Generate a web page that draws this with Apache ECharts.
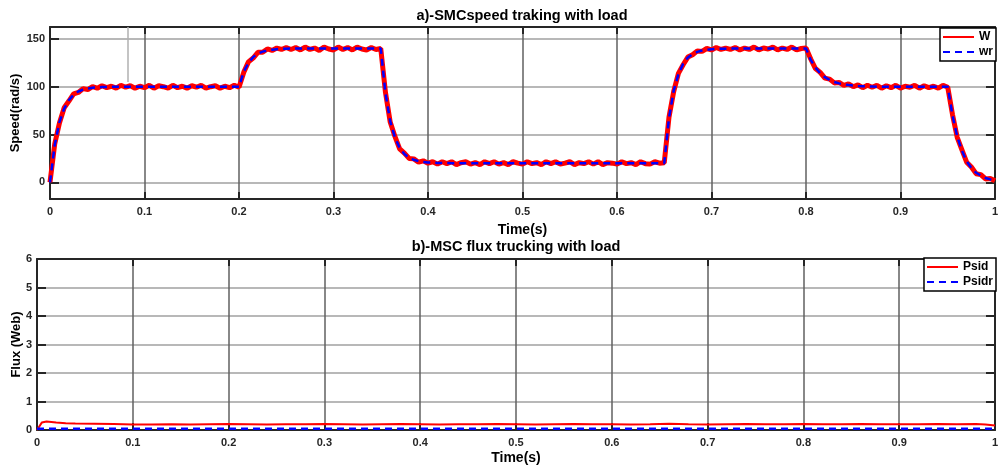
<!DOCTYPE html>
<html>
<head>
<meta charset="utf-8">
<script src="https://cdn.jsdelivr.net/npm/echarts@6/dist/echarts.min.js"></script>
<style>html,body{margin:0;padding:0;background:#fff}#c{width:1002px;height:466px}</style>
</head>
<body>
<div id="c"></div>
<script>
// ---- Top plot: speed tracking (time in s, speed in rad/s)
const timeA = [
0,0.005,0.01,0.015,0.02,0.025,0.03,0.035,0.04,0.045,0.05,0.055,0.06,0.065,0.07,0.075,0.08,0.085,0.09,0.095,
0.1,0.105,0.11,0.115,0.12,0.125,0.13,0.135,0.14,0.145,0.15,0.155,0.16,0.165,0.17,0.175,0.18,0.185,0.19,0.195,
0.2,0.205,0.21,0.215,0.22,0.225,0.23,0.235,0.24,0.245,0.25,0.255,0.26,0.265,0.27,0.275,0.28,0.285,0.29,0.295,
0.3,0.305,0.31,0.315,0.32,0.325,0.33,0.335,0.34,0.345,0.35,0.355,0.36,0.365,0.37,0.375,0.38,0.385,0.39,0.395,
0.4,0.405,0.41,0.415,0.42,0.425,0.43,0.435,0.44,0.445,0.45,0.455,0.46,0.465,0.47,0.475,0.48,0.485,0.49,0.495,
0.5,0.505,0.51,0.515,0.52,0.525,0.53,0.535,0.54,0.545,0.55,0.555,0.56,0.565,0.57,0.575,0.58,0.585,0.59,0.595,
0.6,0.605,0.61,0.615,0.62,0.625,0.63,0.635,0.64,0.645,0.65,0.655,0.66,0.665,0.67,0.675,0.68,0.685,0.69,0.695,
0.7,0.705,0.71,0.715,0.72,0.725,0.73,0.735,0.74,0.745,0.75,0.755,0.76,0.765,0.77,0.775,0.78,0.785,0.79,0.795,
0.8,0.805,0.81,0.815,0.82,0.825,0.83,0.835,0.84,0.845,0.85,0.855,0.86,0.865,0.87,0.875,0.88,0.885,0.89,0.895,
0.9,0.905,0.91,0.915,0.92,0.925,0.93,0.935,0.94,0.945,0.95,0.955,0.96,0.965,0.97,0.975,0.98,0.985,0.99,0.995,
1.0];
const speedW = [
0,40,62,78,85,92.5,94,98,97,100,98.5,101,99,100.5,
98.5,101.5,99.5,101,98.5,100.5,99,101.5,98.5,101,100,98.5,101.5,99,100.5,98.5,101,99.5,101.5,98.5,100,101,98.5,100.5,99,101.5,99.5,
115,126,130,136,136,139.5,138,140.5,139,141,139,
141,138.5,141.5,139,140.5,138,141.5,139.5,138.5,141.5,139,141,138.5,141.5,139.5,138.5,141,139,140,
94,63,48,35,30.5,25,24.5,21,22.5,20,21.5,19,21.5,19.5,
21.5,18.5,20.5,21.5,19,20.5,18.5,21.5,19.5,21.5,19,20.5,18.5,21.5,20,19,21.5,19.5,20.5,18.5,21.5,19.5,21.5,19,20,21.5,18.5,20.5,19.5,21.5,19,21.5,18.5,20.5,20,19,21.5,19.5,20.5,18.5,21.5,19.5,19,21.5,20,20.5,
68,95,114,123,131,133.5,137.5,137,140,138.5,141,139,140.5,139,
141,138.5,140.5,139,141.5,138.5,140.5,139.5,141.5,138.5,140.5,139,141.5,138.5,140,140.5,
129,119,115,109,108,104,104.5,101.5,103,100,102,99,101.5,99.5,
101.5,98.5,101,99,101.5,98.5,100.5,99.5,101.5,98.5,101,99,100.5,98.5,101.5,99.5,
71,47,34,21,16,9,8,3.5,4,1.5];
const speedWr = [
0,39,63,77,86,91.5,95,97,98.2,98.9,99.3,99.6,99.8,99.9,
100,100,100,100,100,100,100,100,100,100,100,100,100,100,100,100,100,100,100,100,100,100,100,100,100,100,100,
115.6,125,131,134.6,136.7,138,138.8,139.3,139.6,139.8,139.9,
140,140,140,140,140,140,140,140,140,140,140,140,140,140,140,140,140,140,140,
93,64,47,36,29.5,25.8,23.5,22.1,21.3,20.8,20.5,20.3,20.2,20.1,
20,20,20,20,20,20,20,20,20,20,20,20,20,20,20,20,20,20,20,20,20,20,20,20,20,20,20,20,20,20,20,20,20,20,20,20,20,20,20,20,20,20,20,20,20,20,
67,96,113,124,130.5,134.2,136.5,137.9,138.7,139.2,139.5,139.7,139.8,139.9,
140,140,140,140,140,140,140,140,140,140,140,140,140,140,140,140,
128,120,114,110,107,105,103.5,102.5,101.7,101.2,100.8,100.5,100.3,100.2,
100,100,100,100,100,100,100,100,100,100,100,100,100,100,100,100,
70,48,33,22,15,10,7,4.5,3,2];
const speedTicks = [0, 50, 100, 150];

// ---- Bottom plot: flux tracking (time in s, flux in Web)
const timeB = [0,0.005,0.01,0.02,0.03,0.04,
0.06,0.08,0.10,0.12,0.14,0.16,0.18,0.20,0.22,0.24,
0.26,0.28,0.30,0.32,0.34,0.36,0.38,0.40,0.42,0.44,
0.46,0.48,0.50,0.52,0.54,0.56,0.58,0.60,0.62,0.64,
0.66,0.68,0.70,0.72,0.74,0.76,0.78,0.80,0.82,0.84,
0.86,0.88,0.90,0.92,0.94,0.96,0.98,0.99,1.0];
const fluxPsid = [0,0.26,0.3,0.26,0.24,0.23,
0.22,0.21,0.19,0.19,0.2,0.19,0.2,0.21,0.2,0.19,
0.2,0.2,0.21,0.2,0.19,0.2,0.21,0.2,0.19,0.2,
0.2,0.21,0.2,0.19,0.2,0.21,0.2,0.2,0.19,0.2,
0.22,0.2,0.19,0.2,0.21,0.2,0.2,0.21,0.2,0.2,
0.21,0.2,0.2,0.2,0.21,0.2,0.21,0.19,0.16];
const timeRef = [0, 1];
const fluxPsidr = [0.04, 0.04];

const FONT = '"Liberation Sans", Arial, sans-serif';
const pairs = (ts, vs) => ts.map((t, i) => [t, vs[i]]);

function xAx(gridIndex, top, nameGap, labelMargin) {
  return {
    type: 'value', gridIndex, min: 0, max: 1, interval: 0.1,
    position: top ? 'top' : 'bottom',
    name: top ? '' : 'Time(s)', nameLocation: 'middle', nameGap, nameMoveOverlap: false,
    nameTextStyle: { fontFamily: FONT, fontWeight: 'bold', fontSize: 14, color: '#000' },
    axisLine: { onZero: false, lineStyle: { color: '#262626', width: 2 } },
    axisTick: { inside: true, length: 7, lineStyle: { color: '#262626', width: 2 } },
    axisLabel: { show: !top, margin: labelMargin, fontFamily: FONT, fontWeight: 'bold', fontSize: 11, color: '#262626' },
    splitLine: { show: !top, lineStyle: { color: '#606060', width: 1.5 } }
  };
}
function yAx(gridIndex, right, cfg) {
  const a = {
    type: 'value', gridIndex, min: cfg.min, max: cfg.max,
    position: right ? 'right' : 'left',
    name: right ? '' : cfg.name, nameLocation: 'middle', nameGap: cfg.nameGap, nameMoveOverlap: false,
    nameTextStyle: { fontFamily: FONT, fontWeight: 'bold', fontSize: 13, color: '#000' },
    axisLine: { onZero: false, lineStyle: { color: '#262626', width: 2 } },
    axisTick: { inside: true, length: 9, lineStyle: { color: '#262626', width: 2 } },
    axisLabel: { show: !right, margin: 5, fontFamily: FONT, fontWeight: 'bold', fontSize: 11, color: '#262626' },
    splitLine: { show: !right, lineStyle: { color: '#a0a0a0', width: 1.5 } }
  };
  if (cfg.custom) { a.axisTick.customValues = cfg.custom; a.axisLabel.customValues = cfg.custom; }
  else { a.interval = cfg.interval; }
  return a;
}
const legendBase = {
  orient: 'vertical', right: 6, itemWidth: 31, itemHeight: 13, itemGap: 3,
  padding: [3, 3, 3, 2], backgroundColor: '#fff', borderColor: '#000', borderWidth: 1.5,
  itemStyle: { opacity: 0 },
  textStyle: { fontFamily: FONT, fontWeight: 'bold', fontSize: 12, color: '#000' }
};

const chart = echarts.init(document.getElementById('c'), null, { renderer: 'canvas' });
chart.setOption({
  animation: false,
  backgroundColor: '#fff',
  title: [
    { text: 'a)-SMCspeed traking with load', left: 522, top: 8, textAlign: 'center', padding: 0,
      textStyle: { fontFamily: FONT, fontWeight: 'bold', fontSize: 14.5, color: '#000' } },
    { text: 'b)-MSC flux trucking with load', left: 516, top: 239, textAlign: 'center', padding: 0,
      textStyle: { fontFamily: FONT, fontWeight: 'bold', fontSize: 14.5, color: '#000' } }
  ],
  legend: [
    Object.assign({}, legendBase, { data: ['W', 'wr'], top: 28 }),
    Object.assign({}, legendBase, { data: ['Psid', 'Psidr'], top: 258 })
  ],
  grid: [
    { left: 50, top: 27, width: 945, height: 172, containLabel: false, outerBoundsMode: 'none' },
    { left: 37, top: 259, width: 958, height: 171, containLabel: false, outerBoundsMode: 'none' }
  ],
  xAxis: [
    xAx(0, false, 24, 7), xAx(0, true, 0, 0),
    xAx(1, false, 21, 7), xAx(1, true, 0, 0)
  ],
  yAxis: [
    yAx(0, false, { min: -17.5, max: 162.5, custom: speedTicks, name: 'Speed(rad/s)', nameGap: 28 }),
    yAx(0, true, { min: -17.5, max: 162.5, custom: speedTicks }),
    yAx(1, false, { min: 0, max: 6, interval: 1, name: 'Flux (Web)', nameGap: 14.5 }),
    yAx(1, true, { min: 0, max: 6, interval: 1 })
  ],
  series: [
    { name: 'W', type: 'line', xAxisIndex: 0, yAxisIndex: 0, data: pairs(timeA, speedW),
      symbol: 'none', lineStyle: { color: '#ff0000', width: 5 }, itemStyle: { color: '#ff0000' },
      markLine: { silent: true, symbol: 'none', label: { show: false },
        lineStyle: { color: '#b0b0b0', width: 1.5, type: 'solid' },
        data: [[{ coord: [0.082, 105] }, { coord: [0.082, 162.5] }]] } },
    { name: 'wr', type: 'line', xAxisIndex: 0, yAxisIndex: 0, data: pairs(timeA, speedWr),
      symbol: 'none', lineStyle: { color: '#0000ff', width: 2.5, type: [7, 5] }, itemStyle: { color: '#0000ff' } },
    { name: 'Psid', type: 'line', xAxisIndex: 2, yAxisIndex: 2, data: pairs(timeB, fluxPsid),
      symbol: 'none', lineStyle: { color: '#ff0000', width: 2 }, itemStyle: { color: '#ff0000' } },
    { name: 'Psidr', type: 'line', xAxisIndex: 2, yAxisIndex: 2, data: pairs(timeRef, fluxPsidr),
      symbol: 'none', lineStyle: { color: '#0000ff', width: 2.5, type: [7, 5] }, itemStyle: { color: '#0000ff' } }
  ]
});
</script>
</body>
</html>
